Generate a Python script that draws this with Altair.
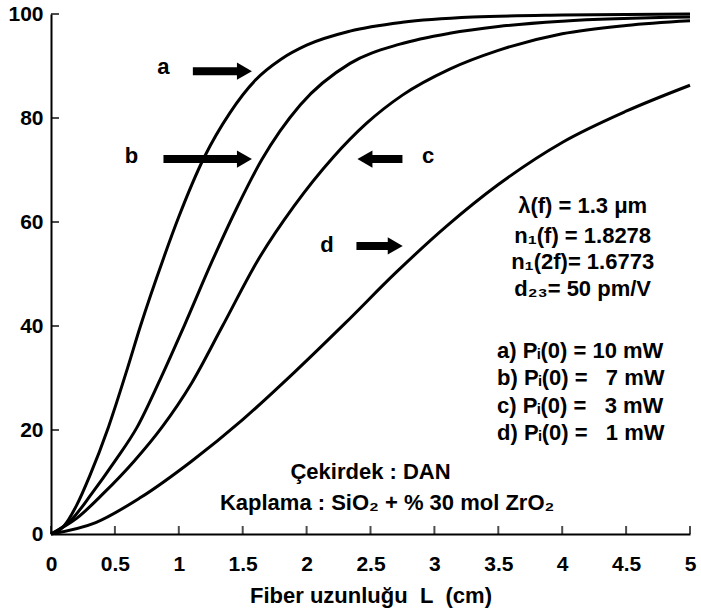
import altair as alt
import pandas as pd

FONT = "Liberation Sans"

# ---- curve data ----
a_L = [0, 0.1, 0.2, 0.3, 0.45, 0.6, 0.7, 0.88, 1.0, 1.2, 1.4, 1.6, 1.8, 2.0, 2.34, 2.75, 3.3, 4.0, 5.0]
a_v = [0, 1.5, 5.5, 11.0, 20.6, 32.0, 40.0, 53.0, 61.0, 72.5, 81.0, 87.3, 91.3, 94.0, 96.7, 98.4, 99.4, 99.8, 100]

b_L = [0, 0.15, 0.32, 0.5, 0.675, 0.85, 1.04, 1.265, 1.45, 1.65, 1.95, 2.34, 2.73, 3.12, 3.5, 4.0, 5.0]
b_v = [0, 2.5, 7.8, 14.0, 20.6, 29.5, 39.9, 52.7, 62.5, 72.0, 82.5, 90.5, 94.2, 96.3, 97.6, 98.6, 99.4]

c_L = [0, 0.2, 0.41, 0.65, 0.87, 1.1, 1.34, 1.62, 1.9, 2.21, 2.47, 2.75, 3.12, 3.5, 4.0, 4.5, 5.0]
c_v = [0, 3.0, 7.8, 14.0, 20.6, 29.0, 39.9, 52.7, 63.0, 72.5, 79.0, 84.4, 89.4, 93.0, 96.2, 97.8, 98.7]

d_L = [0, 0.35, 0.7, 1.1, 1.5, 1.9, 2.3, 2.7, 3.1, 3.5, 4.0, 4.5, 5.0]
d_v = [0, 2.2, 7.0, 14.0, 22.0, 31.0, 40.5, 50.3, 59.3, 67.2, 75.3, 81.3, 86.3]

x_ticks = [0, 0.5, 1, 1.5, 2, 2.5, 3, 3.5, 4, 4.5, 5]
y_ticks = [0, 20, 40, 60, 80, 100]

# arrows and their letters
arrow_label = ["a", "b", "c", "d"]
arrow_dir = ["right", "right", "left", "right"]
arrow_y = [89.0, 72.1, 72.1, 55.4]
arrow_start = [1.11, 0.88, 2.75, 2.39]
arrow_shaft_end = [1.49, 1.49, 2.48, 2.67]
arrow_tip = [1.58, 1.58, 2.39, 2.76]
letter_x = [0.88, 0.63, 2.95, 2.16]
letter_y = [89.8, 72.6, 72.6, 55.6]

# text annotations
param_lines = ["λ(f) = 1.3 μm", "n₁(f) = 1.8278", "n₁(2f)= 1.6773", "d₂₃= 50 pm/V"]
param_x = 4.16
param_y = [63.0, 57.4, 52.3, 47.2]

power_lines = ["a) Pᵢ(0) = 10 mW", "b) Pᵢ(0) = \u20077 mW", "c) Pᵢ(0) = \u20073 mW", "d) Pᵢ(0) = \u20071 mW"]
power_x = 3.49
power_y = [35.2, 30.0, 24.6, 19.5]

core_lines = ["Çekirdek : DAN", "Kaplama : SiO₂ + % 30 mol ZrO₂"]
core_x = [2.5, 2.63]
core_y = [11.9, 5.9]

# ---- build tables ----
rows = []
for name, Ls, vs in [("a", a_L, a_v), ("b", b_L, b_v), ("c", c_L, c_v), ("d", d_L, d_v)]:
    for L, v in zip(Ls, vs):
        rows.append({"series": name, "L": L, "v": v})
curves = pd.DataFrame(rows)

arrows = pd.DataFrame({
    "label": arrow_label, "dir": arrow_dir, "y": arrow_y,
    "x0": arrow_start, "x1": arrow_shaft_end, "tip": arrow_tip,
    "lx": letter_x, "ly": letter_y,
})
params = pd.DataFrame({"t": param_lines, "x": [param_x] * 4, "y": param_y})
powers = pd.DataFrame({"t": power_lines, "x": [power_x] * 4, "y": power_y})
cores = pd.DataFrame({"t": core_lines, "x": core_x, "y": core_y})
xt = pd.DataFrame({"x": x_ticks, "y": [0] * len(x_ticks)})
yt = pd.DataFrame({"y": y_ticks, "x": [0] * len(y_ticks)})

xscale = alt.Scale(domain=[0, 5], nice=False, zero=False)
yscale = alt.Scale(domain=[0, 100], nice=False)

xaxis = alt.Axis(
    values=x_ticks, format=".1~f", ticks=False, grid=False,
    domainColor="black", domainWidth=2,
    labelFont=FONT, labelFontSize=21, labelFontWeight="bold", labelColor="black",
    labelPadding=19, labelFlush=False,
    title="Fiber uzunluğu\u00a0\u00a0L\u00a0\u00a0(cm)",
    titleFont=FONT, titleFontSize=22, titleFontWeight="bold", titleColor="black",
    titlePadding=11,
)
yaxis = alt.Axis(
    values=y_ticks, ticks=False, grid=False,
    domainColor="black", domainWidth=2,
    labelFont=FONT, labelFontSize=21, labelFontWeight="bold", labelColor="black",
    labelPadding=8, labelFlush=False, title=None,
)

lines = alt.Chart(curves).mark_line(
    interpolate="monotone", color="black", strokeWidth=3
).encode(
    x=alt.X("L:Q", scale=xscale, axis=xaxis),
    y=alt.Y("v:Q", scale=yscale, axis=yaxis),
    detail="series:N",
)

xticks = alt.Chart(xt).mark_tick(
    orient="vertical", color="black", size=8, thickness=2, yOffset=-4
).encode(x=alt.X("x:Q", scale=xscale), y=alt.Y("y:Q", scale=yscale))

yticks = alt.Chart(yt).mark_tick(
    orient="horizontal", color="black", size=8, thickness=2, xOffset=4
).encode(x=alt.X("x:Q", scale=xscale), y=alt.Y("y:Q", scale=yscale))

shafts = alt.Chart(arrows).mark_rule(
    color="black", strokeWidth=8, strokeCap="butt"
).encode(
    x=alt.X("x0:Q", scale=xscale), x2="x1:Q", y=alt.Y("y:Q", scale=yscale)
)

head_r = alt.Chart(arrows).transform_filter("datum.dir == 'right'").mark_point(
    shape="triangle-right", filled=True, color="black", opacity=1, size=300, xOffset=-8.5
).encode(x=alt.X("tip:Q", scale=xscale), y=alt.Y("y:Q", scale=yscale))

head_l = alt.Chart(arrows).transform_filter("datum.dir == 'left'").mark_point(
    shape="triangle-left", filled=True, color="black", opacity=1, size=300, xOffset=8.5
).encode(x=alt.X("tip:Q", scale=xscale), y=alt.Y("y:Q", scale=yscale))

letters = alt.Chart(arrows).mark_text(
    font=FONT, fontSize=22, fontWeight="bold", color="black", baseline="middle"
).encode(x=alt.X("lx:Q", scale=xscale), y=alt.Y("ly:Q", scale=yscale), text="label:N")

param_text = alt.Chart(params).mark_text(
    font=FONT, fontSize=22, fontWeight="bold", color="black", align="center", baseline="middle"
).encode(x=alt.X("x:Q", scale=xscale), y=alt.Y("y:Q", scale=yscale), text="t:N")

power_text = alt.Chart(powers).mark_text(
    font=FONT, fontSize=22, fontWeight="bold", color="black", align="left", baseline="middle"
).encode(x=alt.X("x:Q", scale=xscale), y=alt.Y("y:Q", scale=yscale), text="t:N")

core_text = alt.Chart(cores).mark_text(
    font=FONT, fontSize=22, fontWeight="bold", color="black", align="center", baseline="middle"
).encode(x=alt.X("x:Q", scale=xscale), y=alt.Y("y:Q", scale=yscale), text="t:N")

chart = alt.layer(
    lines, xticks, yticks, shafts, head_r, head_l, letters, param_text, power_text, core_text
).properties(
    width=639, height=520,
    autosize=alt.AutoSizeParams(type="none"),
    padding={"left": 51, "top": 14, "right": 11, "bottom": 77},
    background="white",
).configure_view(stroke=None)

chart.save("out.html", embed_options={"renderer": "svg", "actions": False})
